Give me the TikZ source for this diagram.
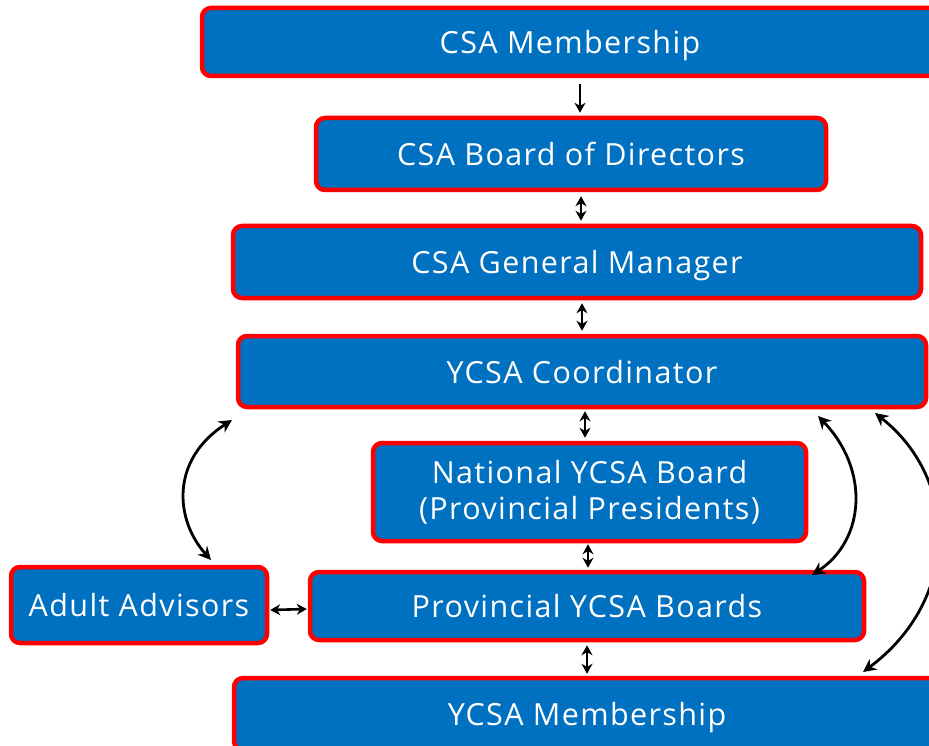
\documentclass[tikz,border=0pt]{standalone}
\usepackage{fontspec}
\setmainfont{Open Sans}
\newfontfamily\boxfont[LetterSpace=4.5]{Open Sans}
\usetikzlibrary{arrows.meta}
\begin{document}
\begin{tikzpicture}[x=1pt,y=-1pt,
  box/.style={draw=red, line width=4.5pt, fill={rgb,255:red,0;green,112;blue,192}, rounded corners=9pt, text=white, font=\boxfont\fontsize{30.5}{36}\selectfont, align=center, inner sep=0pt},
  oneline/.style={box, text depth=0pt},
  conn/.style={line width=2.6pt, {Stealth[length=10pt,width=11pt]}-{Stealth[length=10pt,width=11pt]}},
  curve/.style={line width=2.8pt, {Stealth[length=13pt,width=13pt]}-{Stealth[length=13pt,width=13pt]}},
  oneway/.style={line width=2.6pt, -{Stealth[length=10pt,width=11pt]}}]
\useasboundingbox (0,0) rectangle (929,746);
\clip (0,0) rectangle (929,746);
\node[oneline, minimum width=736pt, minimum height=68pt] (mem) at (570,42) {CSA Membership};
\node[oneline, minimum width=510pt, minimum height=72pt] (bod) at (571,154) {CSA Board of Directors};
\node[oneline, minimum width=688pt, minimum height=72pt] (gm) at (577,262) {CSA General Manager};
\node[oneline, minimum width=688pt, minimum height=71pt] (coord) at (582,371.5) {YCSA Coordinator};
\node[box, minimum width=433pt, minimum height=98pt] (nat) at (589.5,492) {National YCSA Board\\(Provincial Presidents)};
\node[oneline, minimum width=554pt, minimum height=68pt] (prov) at (587,606) {Provincial YCSA Boards};
\node[oneline, minimum width=256pt, minimum height=76pt] (adult) at (139,605) {Adult Advisors};
\node[oneline, minimum width=706pt, minimum height=72pt] (ymem) at (587,714) {YCSA Membership};
\draw[oneway] ([xshift=10pt,yshift=-6pt]mem.south) -- ([xshift=9pt,yshift=3pt]bod.north);
\draw[conn] ([xshift=10pt,yshift=-4pt]bod.south) -- ([xshift=4pt,yshift=3pt]gm.north);
\draw[conn] ([xshift=5pt,yshift=-3pt]gm.south) -- ([xshift=0pt,yshift=3pt]coord.north);
\draw[conn] ([xshift=3pt,yshift=-2pt]coord.south) -- ([xshift=-4.5pt,yshift=3pt]nat.north);
\draw[conn] ([xshift=-1.5pt,yshift=-1pt]nat.south) -- ([xshift=1pt,yshift=2pt]prov.north);
\draw[conn] ([xshift=0pt,yshift=-3pt]prov.south) -- ([xshift=0pt,yshift=2pt]ymem.north);
\draw[conn] ([xshift=1pt,yshift=-5pt]adult.east) -- ([xshift=-1pt,yshift=-3pt]prov.west);
\coordinate (l1) at (232,420);
\coordinate (l2) at (211,560);
\draw[curve] (l1) .. controls (170,460) and (175,520) .. (l2);
\coordinate (r1) at (818,416);
\coordinate (r2) at (812,575);
\draw[curve] (r1) .. controls (870,470) and (865,540) .. (r2);
\coordinate (s1) at (875,413);
\coordinate (s2) at (863,672);
\draw[curve] (s1) .. controls (960,480) and (960,600) .. (s2);
\end{tikzpicture}
\end{document}
